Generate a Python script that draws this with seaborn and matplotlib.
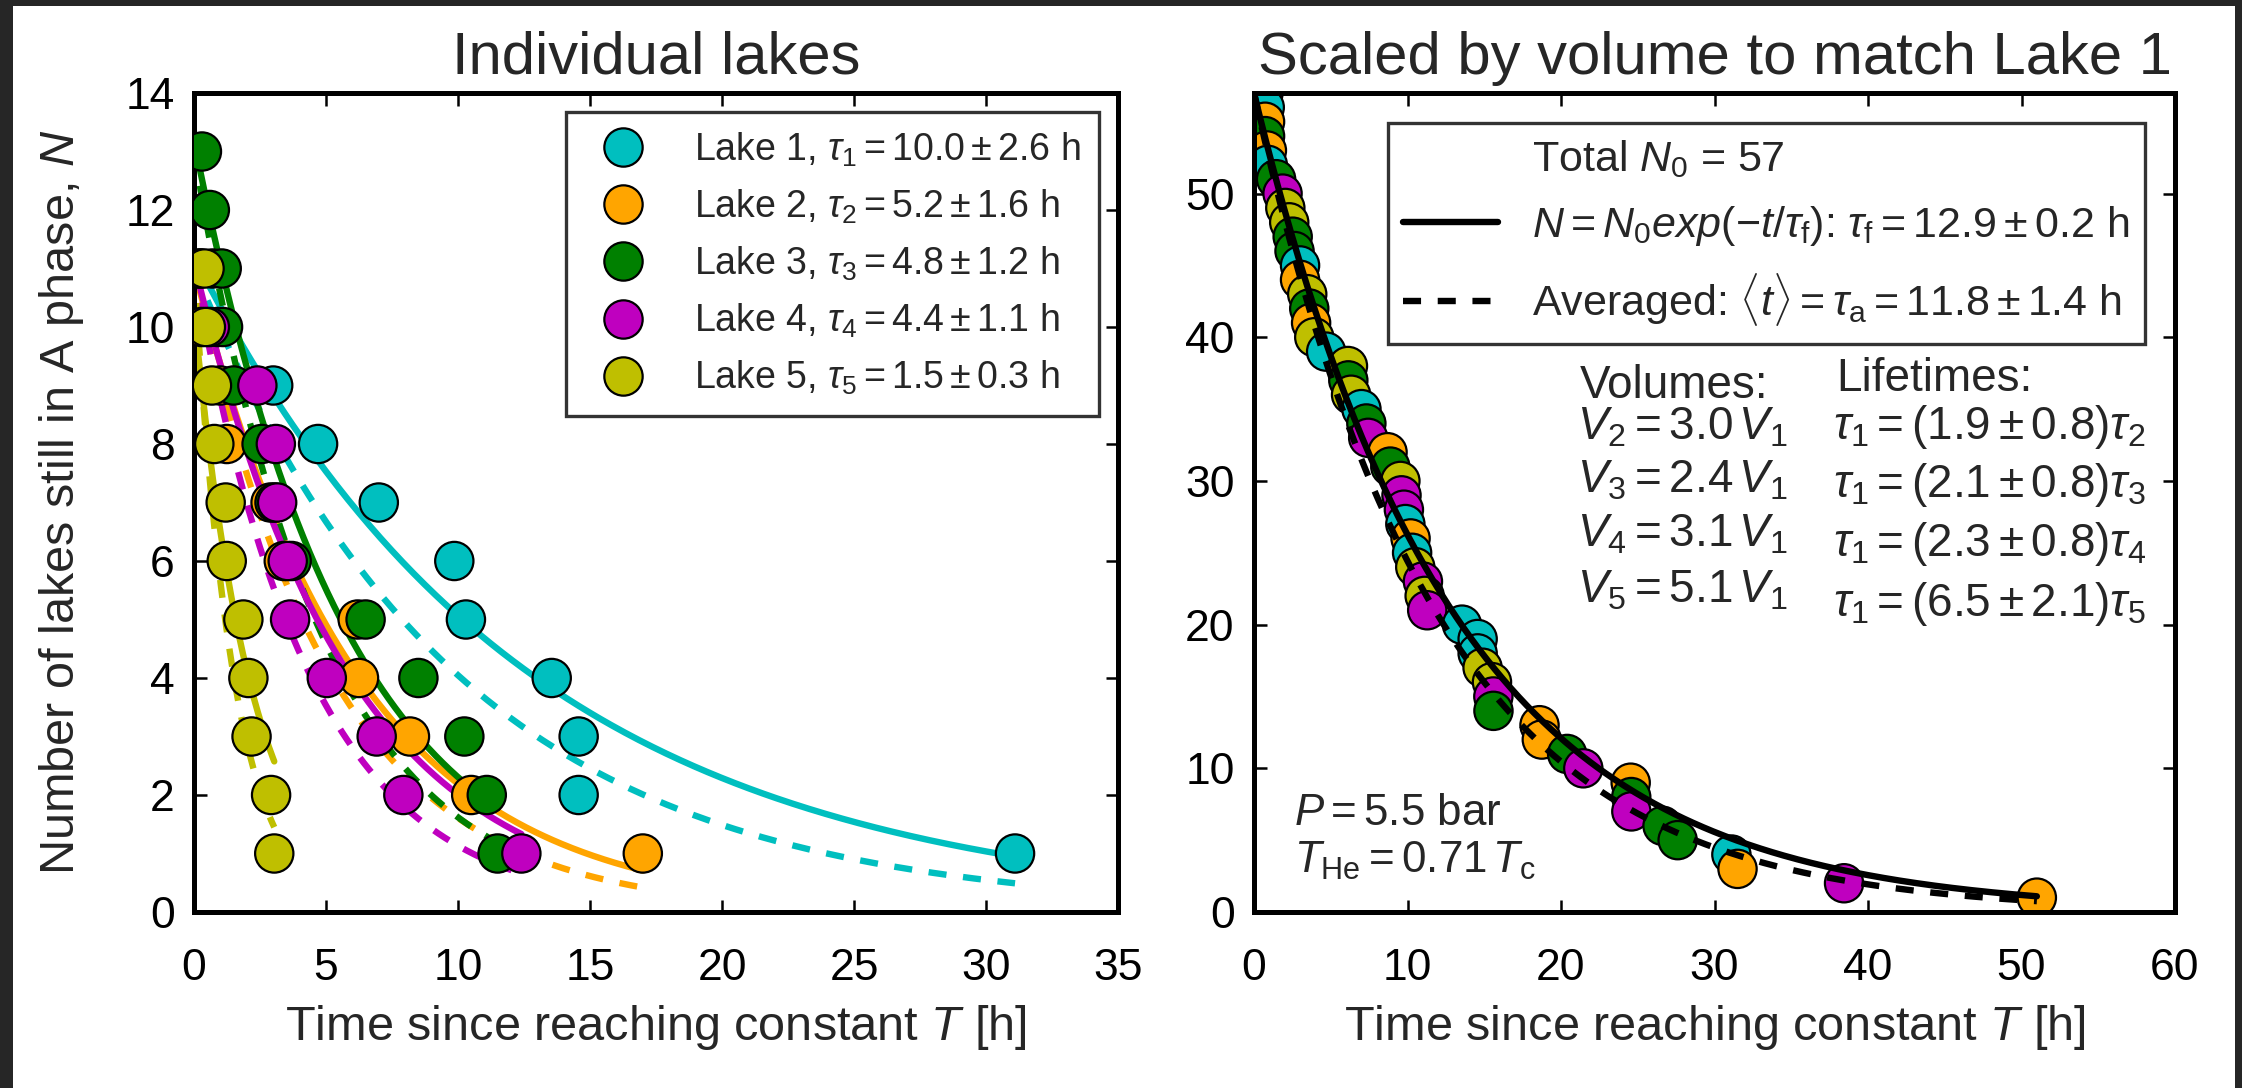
import numpy as np
import pandas as pd
import matplotlib
matplotlib.use("Agg")
import matplotlib.pyplot as plt
import seaborn as sns
from matplotlib.lines import Line2D
from matplotlib.patches import Rectangle

# ---------------- data ----------------
lake_names = ["Lake 1", "Lake 2", "Lake 3", "Lake 4", "Lake 5"]
lake_colors = ["#00bfbf", "#ffa500", "#008000", "#bf00bf", "#bfbf00"]

# transition times [h] for N = N0 ... 1
lake1_t = [0.70, 0.90, 3.0, 4.7, 7.0, 9.86, 10.3, 13.55, 14.57, 14.57, 31.1]
lake2_t = [0.24, 0.28, 1.0, 1.24, 2.9, 3.4, 6.2, 6.25, 8.18, 10.5, 17.0]
lake3_t = [0.3, 0.6, 1.05, 1.1, 1.5, 2.56, 3.05, 3.7, 6.5, 8.5, 10.24, 11.09, 11.5]
lake4_t = [0.2, 0.6, 2.4, 3.1, 3.15, 3.55, 3.64, 5.03, 6.92, 7.93, 12.4]
lake5_t = [0.4, 0.45, 0.68, 0.77, 1.2, 1.24, 1.87, 2.06, 2.18, 2.92, 3.04]
lake_times = [lake1_t, lake2_t, lake3_t, lake4_t, lake5_t]

# averaged lifetimes (legend) and uncertainties
tau_avg = [10.0, 5.2, 4.8, 4.4, 1.5]
tau_err = [2.6, 1.6, 1.2, 1.1, 0.3]

# exponential fit curves (solid lines): amplitude and lifetime
fit_amp = [11.2, 11.0, 13.2, 11.1, 10.25]
fit_tau = [12.6, 6.2, 5.73, 5.85, 2.2]

# volumes relative to lake 1
volumes = [1.0, 3.0, 2.4, 3.1, 5.1]
ratio_val = [1.9, 2.1, 2.3, 6.5]
ratio_err = [0.8, 0.8, 0.8, 2.1]

N_total = 57
tau_f, tau_f_err = 12.9, 0.2
tau_a, tau_a_err = 11.8, 1.4

# ---------------- style ----------------
sns.set_theme(style="white")
plt.rcParams["font.family"] = ["Liberation Sans", "DejaVu Sans"]
plt.rcParams["mathtext.fontset"] = "custom"
plt.rcParams["mathtext.rm"] = "Liberation Sans"
plt.rcParams["mathtext.it"] = "Liberation Sans:italic"
plt.rcParams["mathtext.bf"] = "Liberation Sans:bold"
plt.rcParams["lines.scale_dashes"] = False
plt.rcParams["axes.edgecolor"] = "black"

DPI = 200
fig = plt.figure(figsize=(2242 / DPI, 1088 / DPI), dpi=DPI, facecolor="white")
# dark screenshot border
for (x0, y0, w, h) in [(0, 0, 13 / 2242, 1), (0, 1 - 6 / 1088, 1, 6 / 1088),
                       (1 - 7 / 2242, 0, 7 / 2242, 1)]:
    fig.add_artist(Rectangle((x0, y0), w, h, transform=fig.transFigure,
                             facecolor="#262626", edgecolor="none", zorder=10))

ax1 = fig.add_axes([194 / 2242, 1 - 912 / 1088, 924 / 2242, 819 / 1088])
ax2 = fig.add_axes([1254 / 2242, 1 - 912 / 1088, 921 / 2242, 819 / 1088])

LW = 2.3
DASH = (6.5, 6.0)
MS = 190

# ---------------- left panel ----------------
rows = []
for name, ts in zip(lake_names, lake_times):
    n0 = len(ts)
    for k, t in enumerate(ts):
        rows.append({"Lake": name, "t": t, "N": n0 - k})
df = pd.DataFrame(rows)

for i, ts in enumerate(lake_times):
    n0 = len(ts)
    tt = np.linspace(0, ts[-1], 300)
    ax1.plot(tt, fit_amp[i] * np.exp(-tt / fit_tau[i]), color=lake_colors[i],
             lw=LW, zorder=2)
    ax1.plot(tt, n0 * np.exp(-tt / tau_avg[i]), color=lake_colors[i],
             lw=LW, dashes=DASH, zorder=2)

sns.scatterplot(data=df, x="t", y="N", hue="Lake", palette=lake_colors,
                s=MS, edgecolor="black", linewidth=0.8, legend=False,
                zorder=3, ax=ax1)

handles = [Line2D([], [], marker="o", ls="none", markersize=13.8,
                  markerfacecolor=c, markeredgecolor="black", markeredgewidth=0.8)
           for c in lake_colors]
labels = [f"{n}, $\\tau_{i+1} = {a:.1f} \\pm {e:.1f}$ h"
          for i, (n, a, e) in enumerate(zip(lake_names, tau_avg, tau_err))]
leg1 = ax1.legend(handles, labels, loc="upper right", fontsize=13.5,
                  frameon=True, fancybox=False, edgecolor="black",
                  borderpad=0.5, labelspacing=0.5, handletextpad=0.9,
                  borderaxespad=0.5, handlelength=2.0)
leg1.get_frame().set_linewidth(1.2)

ax1.set_xlim(0, 35)
ax1.set_ylim(0, 14)
ax1.set_xticks(np.arange(0, 36, 5))
ax1.set_yticks(np.arange(0, 15, 2))
ax1.set_xlabel("Time since reaching constant $T$ [h]", fontsize=17.5, labelpad=5)
ax1.set_ylabel("Number of lakes still in A phase, $N$", fontsize=17.5, labelpad=14)
ax1.set_title("Individual lakes", fontsize=21.5, pad=7)

# ---------------- right panel ----------------
rows2 = []
for i, ts in enumerate(lake_times):
    for t in ts:
        rows2.append({"Lake": lake_names[i], "ts": t * volumes[i]})
df2 = pd.DataFrame(rows2).sort_values("ts", kind="stable").reset_index(drop=True)
df2["N"] = N_total - np.arange(len(df2))

sns.scatterplot(data=df2, x="ts", y="N", hue="Lake", hue_order=lake_names,
                palette=lake_colors, s=MS, edgecolor="black", linewidth=0.8,
                legend=False, zorder=2, ax=ax2)

t_end = df2["ts"].max()
tt = np.linspace(0, t_end, 400)
l_fit, = ax2.plot(tt, N_total * np.exp(-tt / tau_f), color="black", lw=LW, zorder=3)
l_avg, = ax2.plot(tt, N_total * np.exp(-tt / tau_a), color="black", lw=LW,
                  dashes=DASH, zorder=3)
blank = Line2D([], [], color="none")
leg2 = ax2.legend([blank, l_fit, l_avg],
                  [f"Total $N_0$ = {N_total}",
                   f"$N = N_0 exp(-t/\\tau_\\mathrm{{f}})$: $\\tau_\\mathrm{{f}} = {tau_f:.1f} \\pm {tau_f_err:.1f}$ h",
                   f"Averaged: $\\langle t \\rangle = \\tau_\\mathrm{{a}} = {tau_a:.1f} \\pm {tau_a_err:.1f}$ h"],
                  loc="upper right", fontsize=15.5, frameon=True, fancybox=False,
                  edgecolor="black", borderpad=0.35, labelspacing=0.55,
                  handlelength=2.2, handletextpad=0.8, borderaxespad=0.7)
leg2.get_frame().set_linewidth(1.2)

TF = 16.5
ax2.text(0.354, 0.628, "Volumes:", transform=ax2.transAxes, fontsize=TF)
v_base = [0.577, 0.512, 0.446, 0.378]
for j, yb in enumerate(v_base):
    ax2.text(0.351, yb, f"$V_{j+2} = {volumes[j+1]:.1f}\\,V_1$",
             transform=ax2.transAxes, fontsize=TF)
ax2.text(0.632, 0.636, "Lifetimes:", transform=ax2.transAxes, fontsize=TF)
l_base = [0.578, 0.507, 0.435, 0.362]
for j, yb in enumerate(l_base):
    ax2.text(0.629, yb,
             f"$\\tau_1 = ({ratio_val[j]:.1f} \\pm {ratio_err[j]:.1f})\\tau_{j+2}$",
             transform=ax2.transAxes, fontsize=TF)
ax2.text(0.043, 0.106, "$P = 5.5$ bar", transform=ax2.transAxes, fontsize=15.8)
ax2.text(0.043, 0.048, "$T_\\mathrm{He} = 0.71\\,T_\\mathrm{c}$",
         transform=ax2.transAxes, fontsize=15.8)

ax2.set_xlim(0, 60)
ax2.set_ylim(0, 57)
ax2.set_xticks(np.arange(0, 61, 10))
ax2.set_yticks(np.arange(0, 51, 10))
ax2.set_xlabel("Time since reaching constant $T$ [h]", fontsize=17.5, labelpad=5)
ax2.set_ylabel("")
ax2.set_title("Scaled by volume to match Lake 1", fontsize=21.5, pad=7)

for ax in (ax1, ax2):
    for sp in ax.spines.values():
        sp.set_visible(True)
        sp.set_color("black")
        sp.set_linewidth(1.8)
    ax.tick_params(direction="in", length=4.5, width=0.9, top=True, right=True,
                   bottom=True, left=True, labelsize=16, colors="black")
    ax.tick_params(axis="x", pad=13)
    ax.tick_params(axis="y", pad=7)
    ax.set_facecolor("white")
    ax.grid(False)

fig.savefig("out.png", dpi=DPI, facecolor="white")
